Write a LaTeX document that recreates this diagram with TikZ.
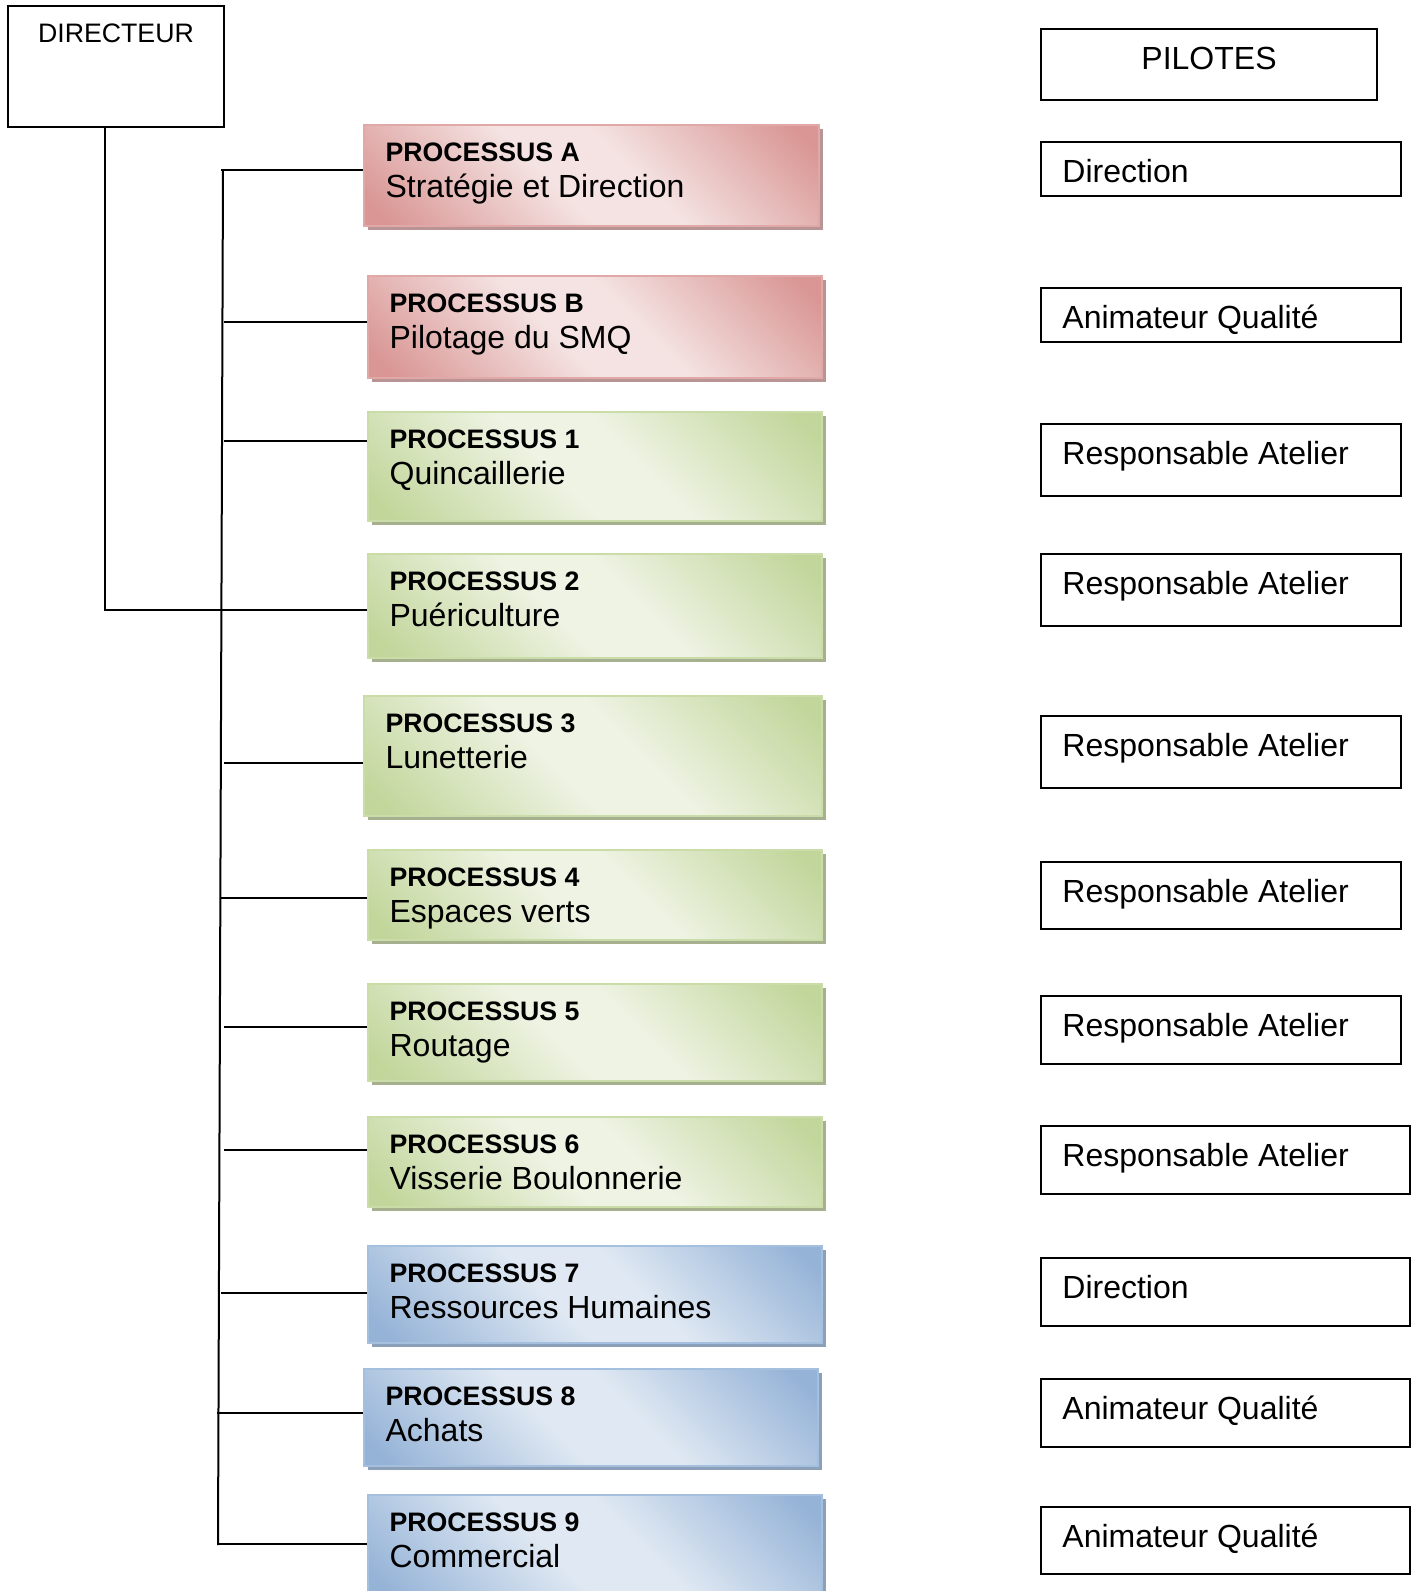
\documentclass[tikz,border=0pt]{standalone}
\usepackage{fontspec}
\setmainfont{Liberation Sans}
\usetikzlibrary{positioning,fit,shadows}
\definecolor{rdark}{HTML}{D99694}
\definecolor{rlight}{HTML}{F4E3E2}
\definecolor{rline}{HTML}{E0A9A7}
\definecolor{rshadow}{HTML}{B89494}
\definecolor{gdark}{HTML}{C2D69B}
\definecolor{glight}{HTML}{EEF3E3}
\definecolor{gline}{HTML}{CADCA8}
\definecolor{gshadow}{HTML}{A6B08E}
\definecolor{bdark}{HTML}{95B3D7}
\definecolor{blight}{HTML}{E0E9F3}
\definecolor{bline}{HTML}{A5BFDE}
\definecolor{bshadow}{HTML}{8CA0BA}
\pgfdeclareverticalshading{redfade}{100bp}{color(0bp)=(rdark); color(18bp)=(rdark); color(44bp)=(rlight); color(56bp)=(rlight); color(82bp)=(rdark); color(100bp)=(rdark)}
\pgfdeclareverticalshading{greenfade}{100bp}{color(0bp)=(gdark); color(18bp)=(gdark); color(44bp)=(glight); color(56bp)=(glight); color(82bp)=(gdark); color(100bp)=(gdark)}
\pgfdeclareverticalshading{bluefade}{100bp}{color(0bp)=(bdark); color(18bp)=(bdark); color(44bp)=(blight); color(56bp)=(blight); color(82bp)=(bdark); color(100bp)=(bdark)}

\begin{document}
\begin{tikzpicture}[x=0.5pt,y=-0.5pt,
line/.style={line width=1pt},
pil/.style={draw,line width=1pt,inner sep=0pt},
procbox/.style={inner sep=0pt,line width=0.8pt,shade,shading angle=-45},
redbox/.style={procbox,shading=redfade,draw=rline,drop shadow={shadow xshift=2pt,shadow yshift=-2pt,opacity=1,fill=rshadow}},
greenbox/.style={procbox,shading=greenfade,draw=gline,drop shadow={shadow xshift=2pt,shadow yshift=-2pt,opacity=1,fill=gshadow}},
bluebox/.style={procbox,shading=bluefade,draw=bline,drop shadow={shadow xshift=2pt,shadow yshift=-2pt,opacity=1,fill=bshadow}},
ttl/.style={anchor=base west,inner sep=0pt,font=\fontsize{13.35}{15}\selectfont\bfseries},
sub/.style={anchor=base west,inner sep=0pt,font=\fontsize{16}{18}\selectfont},
txt/.style={anchor=base west,inner sep=0pt,font=\fontsize{16}{18}\selectfont}
]
\fill[white] (0,0) rectangle (1418,1591);
\useasboundingbox (0,0) rectangle (1418,1591);
\clip (0,0) rectangle (1418,1591);

% directeur
\node[pil,fit={(8,6) (224,127)}] (dir) {};
\node[anchor=base,inner sep=0pt,font=\fontsize{13.35}{15}\selectfont] (dirt) at ([shift={(0,37)}]dir.north) {DIRECTEUR};

% processus
\node[redbox,fit={(364,125) (819,226)}] (strat) {};
\node[ttl] (strat-t) at ([shift={(22,37)}]strat.north west) {PROCESSUS A};
\node[sub] (strat-s) at ([shift={(22,73)}]strat.north west) {Stratégie et Direction};

\node[redbox,fit={(368,276) (822,378)}] (smq) {};
\node[ttl] (smq-t) at ([shift={(22,37)}]smq.north west) {PROCESSUS B};
\node[sub] (smq-s) at ([shift={(22,73)}]smq.north west) {Pilotage du SMQ};

\node[greenbox,fit={(368,412) (822,521)}] (quinc) {};
\node[ttl] (quinc-t) at ([shift={(22,37)}]quinc.north west) {PROCESSUS 1};
\node[sub] (quinc-s) at ([shift={(22,73)}]quinc.north west) {Quincaillerie};

\node[greenbox,fit={(368,554) (822,658)}] (puer) {};
\node[ttl] (puer-t) at ([shift={(22,37)}]puer.north west) {PROCESSUS 2};
\node[sub] (puer-s) at ([shift={(22,73)}]puer.north west) {Puériculture};

\node[greenbox,fit={(364,696) (822,816)}] (lunet) {};
\node[ttl] (lunet-t) at ([shift={(22,37)}]lunet.north west) {PROCESSUS 3};
\node[sub] (lunet-s) at ([shift={(22,73)}]lunet.north west) {Lunetterie};

\node[greenbox,fit={(368,850) (822,940)}] (espv) {};
\node[ttl] (espv-t) at ([shift={(22,37)}]espv.north west) {PROCESSUS 4};
\node[sub] (espv-s) at ([shift={(22,73)}]espv.north west) {Espaces verts};

\node[greenbox,fit={(368,984) (822,1081)}] (rout) {};
\node[ttl] (rout-t) at ([shift={(22,37)}]rout.north west) {PROCESSUS 5};
\node[sub] (rout-s) at ([shift={(22,73)}]rout.north west) {Routage};

\node[greenbox,fit={(368,1117) (822,1207)}] (viss) {};
\node[ttl] (viss-t) at ([shift={(22,37)}]viss.north west) {PROCESSUS 6};
\node[sub] (viss-s) at ([shift={(22,73)}]viss.north west) {Visserie Boulonnerie};

\node[bluebox,fit={(368,1246) (822,1343)}] (rh) {};
\node[ttl] (rh-t) at ([shift={(22,37)}]rh.north west) {PROCESSUS 7};
\node[sub] (rh-s) at ([shift={(22,73)}]rh.north west) {Ressources Humaines};

\node[bluebox,fit={(364,1369) (818,1466)}] (achat) {};
\node[ttl] (achat-t) at ([shift={(22,37)}]achat.north west) {PROCESSUS 8};
\node[sub] (achat-s) at ([shift={(22,73)}]achat.north west) {Achats};

\node[bluebox,fit={(368,1495) (822,1600)}] (comm) {};
\node[ttl] (comm-t) at ([shift={(22,37)}]comm.north west) {PROCESSUS 9};
\node[sub] (comm-s) at ([shift={(22,73)}]comm.north west) {Commercial};

% pilotes
\node[pil,fit={(1041,29) (1377,100)}] (pilotes) {};
\node[anchor=base,inner sep=0pt,font=\fontsize{16}{18}\selectfont] (pilotes-t) at ([shift={(0,41)}]pilotes.north) {PILOTES};

\node[pil,fit={(1041,142) (1401,196)}] (dirA) {};
\node[txt] at ([shift={(22,41)}]dirA.north west) {Direction};
\node[pil,fit={(1041,288) (1401,342)}] (animA) {};
\node[txt] at ([shift={(22,41)}]animA.north west) {Animateur Qualité};
\node[pil,fit={(1041,424) (1401,496)}] (resp1) {};
\node[txt] at ([shift={(22,41)}]resp1.north west) {Responsable Atelier};
\node[pil,fit={(1041,554) (1401,626)}] (resp2) {};
\node[txt] at ([shift={(22,41)}]resp2.north west) {Responsable Atelier};
\node[pil,fit={(1041,716) (1401,788)}] (resp3) {};
\node[txt] at ([shift={(22,41)}]resp3.north west) {Responsable Atelier};
\node[pil,fit={(1041,862) (1401,929)}] (resp4) {};
\node[txt] at ([shift={(22,41)}]resp4.north west) {Responsable Atelier};
\node[pil,fit={(1041,996) (1401,1064)}] (resp5) {};
\node[txt] at ([shift={(22,41)}]resp5.north west) {Responsable Atelier};
\node[pil,fit={(1041,1126) (1410,1194)}] (resp6) {};
\node[txt] at ([shift={(22,41)}]resp6.north west) {Responsable Atelier};
\node[pil,fit={(1041,1258) (1410,1326)}] (dirB) {};
\node[txt] at ([shift={(22,41)}]dirB.north west) {Direction};
\node[pil,fit={(1041,1379) (1410,1447)}] (animB) {};
\node[txt] at ([shift={(22,41)}]animB.north west) {Animateur Qualité};
\node[pil,fit={(1041,1507) (1410,1574)}] (animC) {};
\node[txt] at ([shift={(22,41)}]animC.north west) {Animateur Qualité};

% liaisons
\coordinate (spine-top) at (223,170);
\coordinate (spine-bot) at (218,1545);
\draw[line] (spine-top) -- (spine-bot);
\coordinate (j-strat) at (221,170);
\coordinate (j-smq) at (224,322);
\coordinate (j-quinc) at (224,441);
\coordinate (j-puer) at (105,610);
\coordinate (j-lunet) at (224,763);
\coordinate (j-espv) at (221,898);
\coordinate (j-rout) at (224,1027);
\coordinate (j-viss) at (224,1150);
\coordinate (j-rh) at (221,1293);
\coordinate (j-achat) at (217,1413);
\coordinate (j-comm) at (217,1544);
\draw[line] (j-strat) -- (j-strat -| strat.west);
\draw[line] (j-smq) -- (j-smq -| smq.west);
\draw[line] (j-quinc) -- (j-quinc -| quinc.west);
\draw[line] (dir.south -| j-puer) -- (j-puer) -- (j-puer -| puer.west);
\draw[line] (j-lunet) -- (j-lunet -| lunet.west);
\draw[line] (j-espv) -- (j-espv -| espv.west);
\draw[line] (j-rout) -- (j-rout -| rout.west);
\draw[line] (j-viss) -- (j-viss -| viss.west);
\draw[line] (j-rh) -- (j-rh -| rh.west);
\draw[line] (j-achat) -- (j-achat -| achat.west);
\draw[line] (j-comm) -- (j-comm -| comm.west);
\end{tikzpicture}
\end{document}
